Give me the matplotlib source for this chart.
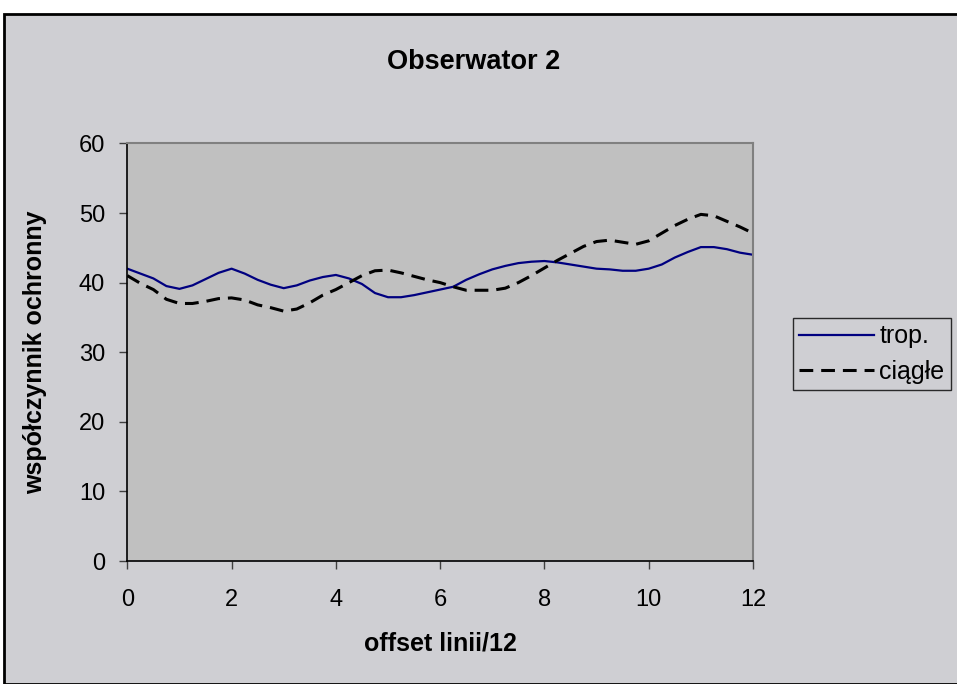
import matplotlib

matplotlib.use("Agg")
import matplotlib.pyplot as plt
from matplotlib.patches import Rectangle

# offset linii/12, sampled every quarter step
offset = [i * 0.25 for i in range(49)]

trop = [
    42.0, 41.3, 40.6, 39.5, 39.1, 39.6, 40.5, 41.4, 42.0, 41.3,
    40.4, 39.7, 39.2, 39.6, 40.3, 40.8, 41.1, 40.6, 39.8, 38.5,
    37.9, 37.9, 38.2, 38.6, 39.0, 39.4, 40.4, 41.2, 41.9, 42.4,
    42.8, 43.0, 43.1, 42.9, 42.6, 42.3, 42.0, 41.9, 41.7, 41.7,
    42.0, 42.6, 43.6, 44.4, 45.1, 45.1, 44.8, 44.3, 44.0,
]

ciagle = [
    41.0, 39.9, 39.0, 37.6, 37.0, 37.0, 37.3, 37.7, 37.8, 37.5,
    36.8, 36.4, 35.9, 36.2, 37.1, 38.2, 39.0, 40.0, 41.0, 41.7,
    41.8, 41.4, 40.9, 40.4, 40.0, 39.4, 38.9, 38.9, 38.9, 39.2,
    40.0, 41.0, 42.1, 43.2, 44.2, 45.2, 45.9, 46.1, 45.8, 45.5,
    46.0, 47.1, 48.2, 49.1, 49.8, 49.6, 48.8, 48.0, 47.1,
]

x_ticks = [0, 2, 4, 6, 8, 10, 12]
y_ticks = [0, 10, 20, 30, 40, 50, 60]

plt.rcParams["font.family"] = ["Liberation Sans", "DejaVu Sans"]

W, H = 957, 684
fig = plt.figure(figsize=(W / 100, H / 100), dpi=100)
fig.patch.set_facecolor("white")

# chart area frame
fig.patches.append(
    Rectangle((4 / W, 0), 1, 1 - 14 / H, transform=fig.transFigure,
              facecolor="#cfcfd3", edgecolor="black", linewidth=2, zorder=-10)
)

ax = fig.add_axes([127.3 / W, (H - 561) / H, (753 - 127.3) / W, (561 - 143.4) / H])
ax.set_facecolor("#c0c0c0")

ax.plot(offset, trop, color="#000080", linewidth=1.6, label="trop.")
ax.plot(offset, ciagle, color="black", linewidth=2.2, dashes=(4.5, 2.6), label="ciągłe")

ax.set_xlim(0, 12)
ax.set_ylim(0, 60)
ax.set_xticks(x_ticks)
ax.set_yticks(y_ticks)
ax.tick_params(axis="both", direction="out", length=6, width=1, color="#404040",
               labelsize=17)
ax.tick_params(axis="x", pad=14)
ax.tick_params(axis="y", pad=10)

for side in ("left", "bottom"):
    ax.spines[side].set_color("black")
    ax.spines[side].set_linewidth(1.2)
for side in ("top", "right"):
    ax.spines[side].set_color("#808080")
    ax.spines[side].set_linewidth(1.5)

fig.text(474 / W, 1 - 62 / H, "Obserwator 2", fontsize=19.5, fontweight="bold",
         ha="center", va="center")
ax.set_xlabel("offset linii/12", fontsize=18, fontweight="bold", labelpad=15)
ax.set_ylabel("współczynnik ochronny", fontsize=18, fontweight="bold", labelpad=23)

leg = fig.legend(loc="upper left", bbox_to_anchor=(793 / W, 1 - 318 / H),
                 fontsize=18, frameon=True, fancybox=False, handlelength=3.0,
                 handletextpad=0.2, borderpad=0.25, labelspacing=0.45,
                 borderaxespad=0)
leg.get_frame().set_edgecolor("black")
leg.get_frame().set_facecolor("#cfcfd3")
leg.get_frame().set_linewidth(1)

fig.savefig("out.png", dpi=100)
